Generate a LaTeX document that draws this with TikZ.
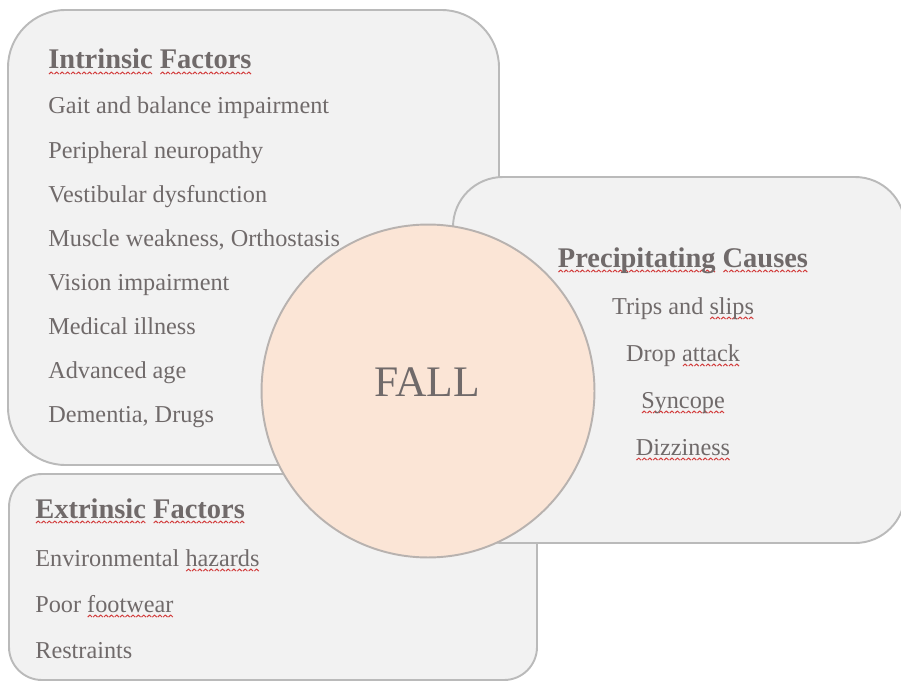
\documentclass[tikz,border=0pt]{standalone}
\usepackage{fontspec}
\setmainfont{Liberation Serif}
\usepackage{xcolor}
\usepackage{tikz}
\usetikzlibrary{positioning}

\definecolor{boxfill}{RGB}{242,242,242}
\definecolor{boxline}{RGB}{186,186,186}
\definecolor{discfill}{RGB}{251,229,214}
\definecolor{discline}{RGB}{184,178,175}
\definecolor{inkgray}{RGB}{112,106,106}
\definecolor{spellred}{RGB}{210,60,60}

% red wavy spell-check underline
\newsavebox\spellbox
\newcommand\wavebit{\tikz[x=1pt,y=1pt,baseline=0pt]\draw[spellred,line width=0.55pt,line join=round] (0,0)--(1.25,1.2)--(2.5,0);}
\newcommand\spell[1]{\sbox\spellbox{#1}\rlap{\raisebox{-2.9pt}{\hbox to\wd\spellbox{\xleaders\hbox{\wavebit}\hfil}}}\usebox\spellbox}

\begin{document}
\begin{tikzpicture}[x=0.02cm,y=-0.02cm,
  panel/.style={draw=boxline,fill=boxfill,line width=1.1pt},
  disc/.style={circle,draw=discline,fill=discfill,line width=1.1pt,minimum size=6.66cm,inner sep=0pt},
  item/.style={inner sep=0pt,text=inkgray,font=\fontsize{13.8}{16}\selectfont},
  head/.style={inner sep=0pt,text=inkgray,font=\fontsize{16.2}{19}\selectfont\bfseries}]
  \useasboundingbox (0,0) rectangle (901,682);
  % panels, back to front
  \path[panel,rounded corners=1.15cm] (8,10) rectangle (499,465);
  \path[panel,rounded corners=0.66cm] (9,474) rectangle (537,680);
  \path[panel,rounded corners=1cm] (453,177) rectangle (905,543);

  \node[head,anchor=base west] (intr) at (48,69) {\spell{Intrinsic} \spell{Factors}};
  \foreach \txt [count=\i] in {Gait and balance impairment,Peripheral neuropathy,
      Vestibular dysfunction,{Muscle weakness, Orthostasis},Vision impairment,
      Medical illness,Advanced age,{Dementia, Drugs}}
    \node[item,anchor=base west] (intr\i) at (48,{70+44*\i}) {\txt};

  \node[head,anchor=base west] (extr) at (35,518) {\spell{Extrinsic} \spell{Factors}};
  \foreach \txt [count=\i] in {Environmental \spell{hazards},Poor \spell{footwear},Restraints}
    \node[item,anchor=base west] (extr\i) at (35,{520+46*\i}) {\txt};

  \node[head,anchor=base] (prec) at (683,267) {\spell{Precipitating} \spell{Causes}};
  \foreach \txt [count=\i] in {Trips and \spell{slips},Drop \spell{attack},\spell{Syncope},\spell{Dizziness}}
    \node[item,anchor=base] (prec\i) at (683,{267+47*\i}) {\txt};

  \node[disc] (fall) at (428,391) {};
  \node[item,font=\fontsize{24.8}{30}\selectfont] (falltxt) at (427,382) {FALL};
\end{tikzpicture}
\end{document}
